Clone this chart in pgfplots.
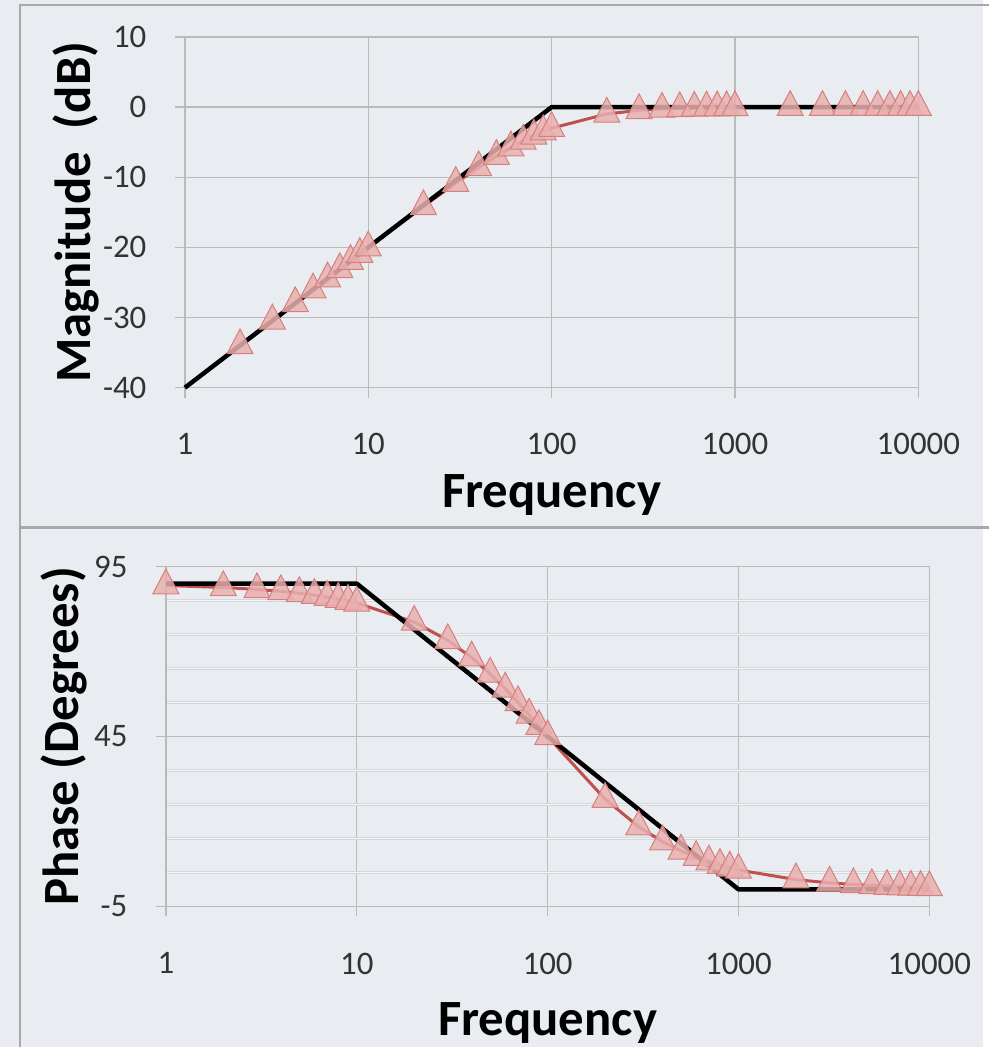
\documentclass[border=0pt]{standalone}
\usepackage{pgfplots}
\pgfplotsset{compat=1.18}
\usepackage{fontspec}
\setmainfont{Carlito}

\definecolor{panelbg}{HTML}{E9EDF2}
\definecolor{gridgray}{HTML}{BABABA}
\definecolor{minoredge}{HTML}{D3D6DA}
\definecolor{minorcore}{HTML}{F4F5F7}
\definecolor{framegray}{HTML}{A8A8A8}
\definecolor{curve}{HTML}{C0504D}
\definecolor{mfill}{HTML}{E8B0AF}
\definecolor{medge}{HTML}{D67F7D}

% Magnitude response (dB) of the first-order high-pass, corner at 100
\pgfplotstableread{
w     mag
2     -33.98
3     -30.46
4     -27.97
5     -26.03
6     -24.45
7     -23.12
8     -21.97
9     -20.95
10    -20.04
20    -14.15
30    -10.83
40    -8.60
50    -6.99
60    -5.77
70    -4.83
80    -4.09
90    -3.49
100   -3.01
200   -0.97
300   -0.46
400   -0.26
500   -0.17
600   -0.12
700   -0.09
800   -0.07
900   -0.05
1000  -0.04
2000  -0.01
3000  0.00
4000  0.00
5000  0.00
6000  0.00
7000  0.00
8000  0.00
9000  0.00
10000 0.00
}\magdata

% Phase response (degrees)
\pgfplotstableread{
w     ph
1     89.43
2     88.85
3     88.28
4     87.71
5     87.14
6     86.57
7     86.00
8     85.43
9     84.86
10    84.29
20    78.69
30    73.30
40    68.20
50    63.43
60    59.04
70    55.01
80    51.34
90    48.01
100   45.00
200   26.57
300   18.43
400   14.04
500   11.31
600   9.46
700   8.13
800   7.13
900   6.34
1000  5.71
2000  2.86
3000  1.91
4000  1.43
5000  1.15
6000  0.95
7000  0.82
8000  0.72
9000  0.64
10000 0.57
}\phdata

% Straight-line (asymptotic) approximations
\pgfplotstableread{
w     mag
1     -40
100   0
10000 0
}\magasym

\pgfplotstableread{
w     ph
1     90
10    90
1000  0
10000 0
}\phasym

\pgfplotsset{
  bode/.style={
    scale only axis, anchor=south west, clip=false,
    xmin=1, xmax=10000,
    xtick={1,10,100,1000,10000},
    xticklabels={1,10,100,1000,10000},
    xminorticks=false,
    major grid style={gridgray, line width=1.3bp},
    axis line style={gridgray, line width=1.3bp},
    tick pos=left, tick align=outside,
    major tick length=10bp,
    tick style={gridgray, line width=1.3bp},
    ticklabel style={font=\fontsize{33}{36}\selectfont, text=black!80},
    yticklabel style={anchor=east, xshift=-25bp},
    label style={font=\bfseries\fontsize{51}{55}\selectfont, text=black},
  },
  meas/.style={curve, line width=3bp, mark=triangle*, mark size=15bp,
    mark options={yscale=1.1, fill=mfill, draw=medge, line width=1bp,
      fill opacity=0.85}},
  asym/.style={black, line width=4.5bp, line join=round, mark=none},
}

\begin{document}
\begin{tikzpicture}
\fill[panelbg] (0,0) rectangle (984bp,1048bp);
\draw[framegray, line width=1.5bp] (20bp,0) -- (20bp,1043bp) -- (990bp,1043bp);
\draw[framegray, line width=2.5bp] (20bp,520bp) -- (990bp,520bp);
\useasboundingbox (0,0) rectangle (984bp,1048bp);

\begin{axis}[xmode=log, bode, xmajorgrids, ymajorgrids,
  at={(185bp,660bp)}, width=734bp, height=351bp,
  ymin=-40, ymax=10, ytick={-40,-30,-20,-10,0,10},
  yticklabels={-40,-30,-20,-10,0,10},
  xticklabel style={yshift=-32bp},
  xlabel={Frequency}, ylabel={Magnitude~~(dB)},
  xlabel style={at={(axis description cs:0.5,-0.342)}, anchor=base},
  ylabel style={at={(axis description cs:-0.129,0.5)}, anchor=base},
]
\addplot[meas] table[x=w, y=mag] {\magdata};
\addplot[asym] table[x=w, y=mag] {\magasym};
\end{axis}

\begin{axis}[xmode=log, bode, xmajorgrids, ymajorgrids, yminorgrids,
  at={(166bp,141bp)}, width=764bp, height=340bp,
  ymin=-5, ymax=95, ytick={-5,45,95},
  yticklabels={-5,45,95},
  minor ytick={5,15,25,35,55,65,75,85},
  minor tick length=0pt,
  minor grid style={draw=minoredge, line width=0.5bp,
    double=minorcore, double distance=1.6bp},
  xticklabel style={yshift=-33bp},
  xlabel={Frequency}, ylabel={Phase (Degrees)},
  xlabel style={at={(axis description cs:0.5,-0.379)}, anchor=base},
  ylabel style={at={(axis description cs:-0.115,0.5)}, anchor=base},
]
\addplot[meas] table[x=w, y=ph] {\phdata};
\addplot[asym] table[x=w, y=ph] {\phasym};
\end{axis}
\end{tikzpicture}
\end{document}
